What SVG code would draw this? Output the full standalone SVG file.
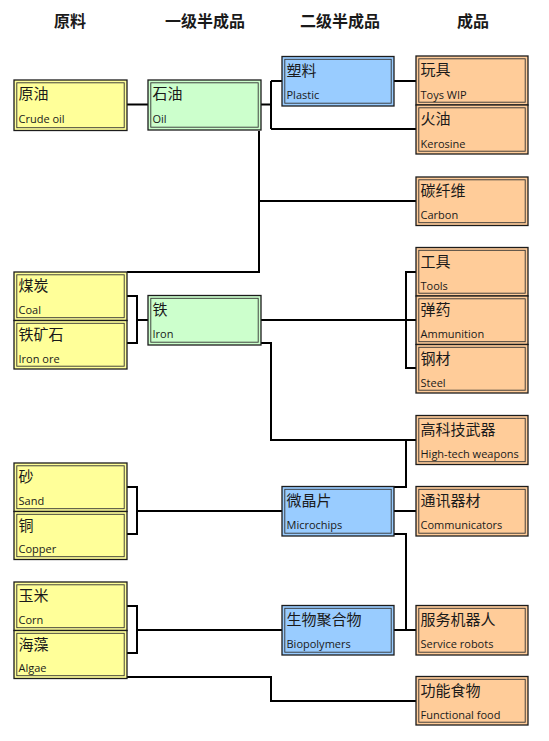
<svg xmlns="http://www.w3.org/2000/svg" width="549" height="741" viewBox="0 0 549 741">
<style>
.o{stroke:#1c1c1c;stroke-width:1.3}
.i{fill:none;stroke:#333;stroke-width:0.9}
.y{fill:#ffff99}.g{fill:#ccffcc}.b{fill:#99ccff}.p{fill:#ffcc99}
.zh{font-family:"Noto Sans CJK SC","Noto Sans",sans-serif;font-size:15px;fill:#1a1a1a}
.en{font-family:"Open Sans","Noto Sans",sans-serif;font-size:11px;fill:#1a1a1a}
.hd{font-family:"Noto Sans CJK SC",sans-serif;font-size:16px;font-weight:bold;fill:#1a1a1a;text-anchor:middle}
#connectors path{fill:none;stroke:#000;stroke-width:2}
</style>
<rect width="549" height="741" fill="#fff"/>
<g id="headers">
<text class="hd" x="70" y="27">原料</text>
<text class="hd" x="205" y="27">一级半成品</text>
<text class="hd" x="340" y="27">二级半成品</text>
<text class="hd" x="473" y="27">成品</text>
</g>
<g id="connectors">
<path d="M127,104.5H148"/>
<path d="M261,104.5H271M271,81V129M271,81H282M271,129H416"/>
<path d="M394,81H416"/>
<path d="M259,131V272H127M259,201H416"/>
<path d="M127,296H137V343H127M137,320H148"/>
<path d="M261,320H416M416,272H406V368H416"/>
<path d="M261,343H271V440H416"/>
<path d="M406,440V487H394"/>
<path d="M394,511H416"/>
<path d="M394,534H406V630M394,630H416"/>
<path d="M127,487H137V534H127M137,511H282"/>
<path d="M127,606H137V653H127M137,630H282"/>
<path d="M127,677H271V701H416"/>
</g>
<g id="n-crude-oil"><rect class="o y" x="14" y="80" width="113" height="50.5"/><rect class="i" x="16.8" y="82.8" width="107.4" height="44.9"/><text class="zh" x="18.5" y="99">原油</text><text class="en" x="18.5" y="123">Crude oil</text></g>
<g id="n-coal"><rect class="o y" x="14" y="272" width="113" height="48.5"/><rect class="i" x="16.8" y="274.8" width="107.4" height="42.9"/><text class="zh" x="18.5" y="291">煤炭</text><text class="en" x="18.5" y="314">Coal</text></g>
<g id="n-iron-ore"><rect class="o y" x="14" y="320.5" width="113" height="48.5"/><rect class="i" x="16.8" y="323.3" width="107.4" height="42.9"/><text class="zh" x="18.5" y="339.5">铁矿石</text><text class="en" x="18.5" y="362.5">Iron ore</text></g>
<g id="n-sand"><rect class="o y" x="14" y="463" width="113" height="48.5"/><rect class="i" x="16.8" y="465.8" width="107.4" height="42.9"/><text class="zh" x="18.5" y="482">砂</text><text class="en" x="18.5" y="505">Sand</text></g>
<g id="n-copper"><rect class="o y" x="14" y="511.5" width="113" height="48"/><rect class="i" x="16.8" y="514.3" width="107.4" height="42.4"/><text class="zh" x="18.5" y="530.5">铜</text><text class="en" x="18.5" y="553">Copper</text></g>
<g id="n-corn"><rect class="o y" x="14" y="582" width="113" height="48.5"/><rect class="i" x="16.8" y="584.8" width="107.4" height="42.9"/><text class="zh" x="18.5" y="601">玉米</text><text class="en" x="18.5" y="624">Corn</text></g>
<g id="n-algae"><rect class="o y" x="14" y="630.5" width="113" height="48"/><rect class="i" x="16.8" y="633.3" width="107.4" height="42.4"/><text class="zh" x="18.5" y="649.5">海藻</text><text class="en" x="18.5" y="672">Algae</text></g>
<g id="n-oil"><rect class="o g" x="148" y="80" width="113" height="50"/><rect class="i" x="150.8" y="82.8" width="107.4" height="44.4"/><text class="zh" x="152.5" y="99">石油</text><text class="en" x="152.5" y="123">Oil</text></g>
<g id="n-iron"><rect class="o g" x="148" y="295.5" width="113" height="49.5"/><rect class="i" x="150.8" y="298.3" width="107.4" height="43.9"/><text class="zh" x="152.5" y="314.5">铁</text><text class="en" x="152.5" y="338">Iron</text></g>
<g id="n-plastic"><rect class="o b" x="282" y="56.5" width="112" height="49.5"/><rect class="i" x="284.8" y="59.3" width="106.4" height="43.9"/><text class="zh" x="286.5" y="75.5">塑料</text><text class="en" x="286.5" y="99">Plastic</text></g>
<g id="n-microchips"><rect class="o b" x="282" y="486.5" width="112" height="49.5"/><rect class="i" x="284.8" y="489.3" width="106.4" height="43.9"/><text class="zh" x="286.5" y="505.5">微晶片</text><text class="en" x="286.5" y="529">Microchips</text></g>
<g id="n-biopolymers"><rect class="o b" x="282" y="605.5" width="112" height="49.5"/><rect class="i" x="284.8" y="608.3" width="106.4" height="43.9"/><text class="zh" x="286.5" y="624.5">生物聚合物</text><text class="en" x="286.5" y="648">Biopolymers</text></g>
<g id="n-toys"><rect class="o p" x="416" y="56" width="112" height="49"/><rect class="i" x="418.8" y="58.8" width="106.4" height="43.4"/><text class="zh" x="420.5" y="75">玩具</text><text class="en" x="420.5" y="98.5">Toys WIP</text></g>
<g id="n-kerosine"><rect class="o p" x="416" y="105" width="112" height="49"/><rect class="i" x="418.8" y="107.8" width="106.4" height="43.4"/><text class="zh" x="420.5" y="124">火油</text><text class="en" x="420.5" y="147.5">Kerosine</text></g>
<g id="n-carbon"><rect class="o p" x="416" y="177" width="112" height="48.5"/><rect class="i" x="418.8" y="179.8" width="106.4" height="42.9"/><text class="zh" x="420.5" y="196">碳纤维</text><text class="en" x="420.5" y="219">Carbon</text></g>
<g id="n-tools"><rect class="o p" x="416" y="247.5" width="112" height="48.5"/><rect class="i" x="418.8" y="250.3" width="106.4" height="42.9"/><text class="zh" x="420.5" y="266.5">工具</text><text class="en" x="420.5" y="289.5">Tools</text></g>
<g id="n-ammunition"><rect class="o p" x="416" y="296" width="112" height="48.5"/><rect class="i" x="418.8" y="298.8" width="106.4" height="42.9"/><text class="zh" x="420.5" y="315">弹药</text><text class="en" x="420.5" y="338">Ammunition</text></g>
<g id="n-steel"><rect class="o p" x="416" y="344.5" width="112" height="48.5"/><rect class="i" x="418.8" y="347.3" width="106.4" height="42.9"/><text class="zh" x="420.5" y="363.5">钢材</text><text class="en" x="420.5" y="386.5">Steel</text></g>
<g id="n-hightech"><rect class="o p" x="416" y="415.5" width="112" height="49"/><rect class="i" x="418.8" y="418.3" width="106.4" height="43.4"/><text class="zh" x="420.5" y="434.5">高科技武器</text><text class="en" x="420.5" y="458">High-tech weapons</text></g>
<g id="n-communicators"><rect class="o p" x="416" y="486.5" width="112" height="49.5"/><rect class="i" x="418.8" y="489.3" width="106.4" height="43.9"/><text class="zh" x="420.5" y="505.5">通讯器材</text><text class="en" x="420.5" y="529">Communicators</text></g>
<g id="n-service-robots"><rect class="o p" x="416" y="605.5" width="112" height="49.5"/><rect class="i" x="418.8" y="608.3" width="106.4" height="43.9"/><text class="zh" x="420.5" y="624.5">服务机器人</text><text class="en" x="420.5" y="648">Service robots</text></g>
<g id="n-functional-food"><rect class="o p" x="416" y="676.5" width="112" height="48.5"/><rect class="i" x="418.8" y="679.3" width="106.4" height="42.9"/><text class="zh" x="420.5" y="695.5">功能食物</text><text class="en" x="420.5" y="718.5">Functional food</text></g>
</svg>
